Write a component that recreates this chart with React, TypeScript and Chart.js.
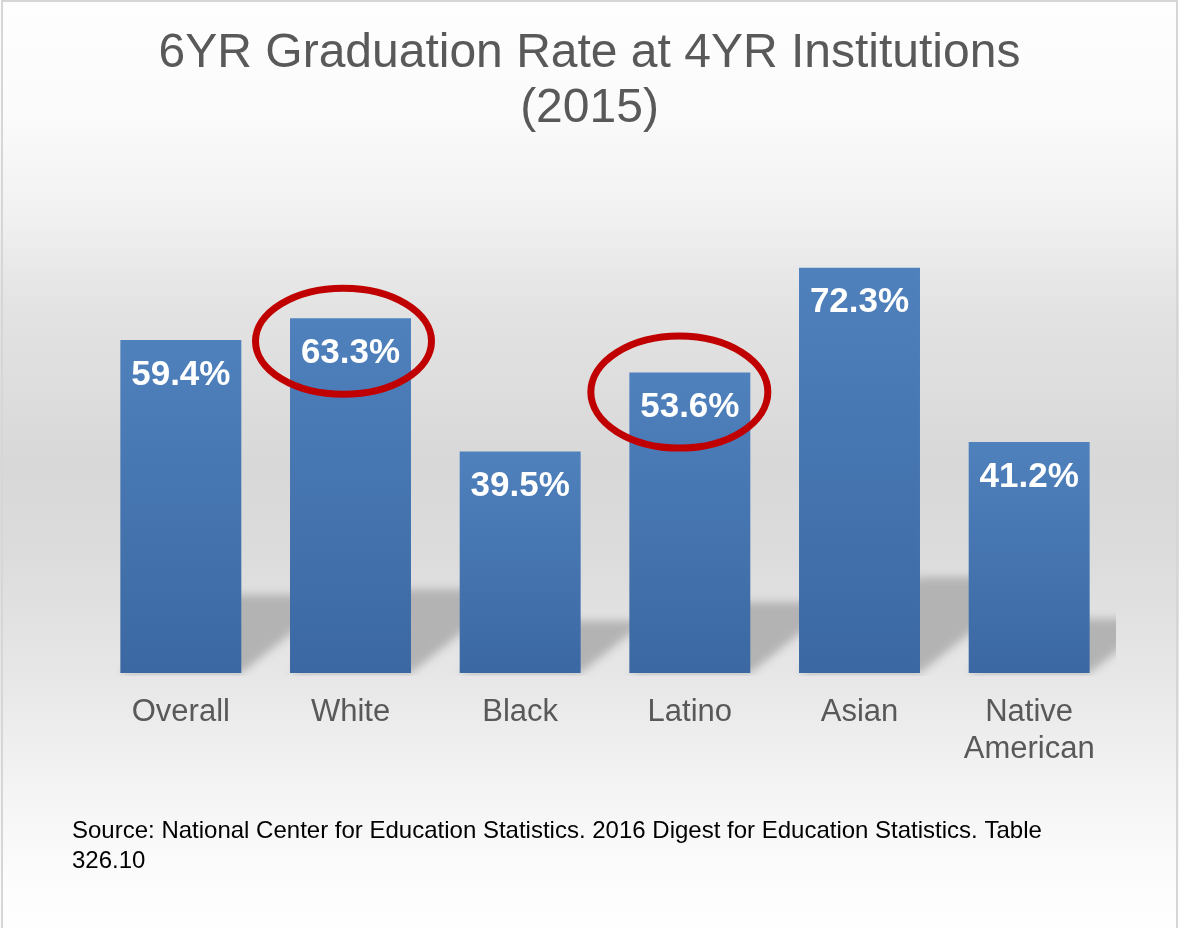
import { useEffect, useRef } from 'react';
import { Chart, registerables } from 'chart.js';

Chart.register(...registerables);

// ---- Data ----
const CATEGORIES: (string | string[])[] = ['Overall', 'White', 'Black', 'Latino', 'Asian', ['Native', 'American']];
const RATES: number[] = [59.4, 63.3, 39.5, 53.6, 72.3, 41.2];
const HIGHLIGHTED: number[] = [1, 3];
const TITLE_LINES: string[] = ['6YR Graduation Rate at 4YR Institutions', '(2015)'];
const SOURCE_LINES: string[] = [
  'Source: National Center for Education Statistics. 2016 Digest for Education Statistics. Table',
  '326.10',
];
const Y_MAX = 80;

// ---- Styles ----
const FONT = "'Liberation Sans', Arial, Helvetica, sans-serif";
const TEXT_GRAY = '#595959';
const BAR_TOP = '#4f81bd';
const BAR_BOTTOM = '#3b68a2';
const HIGHLIGHT_SHAPES = [
  { dx: -7, dy: 23, rx: 88, ry: 53 },
  { dx: -10.5, dy: 19.5, rx: 88.5, ry: 56 },
];

const backgroundPlugin = {
  id: 'slideBackground',
  beforeDraw(chart: any) {
    const { ctx, width, height } = chart;
    ctx.save();
    const g = ctx.createLinearGradient(0, 0, 0, height);
    g.addColorStop(0, '#fefefe');
    g.addColorStop(0.12, '#fbfbfb');
    g.addColorStop(0.23, '#f1f1f1');
    g.addColorStop(0.33, '#e3e3e3');
    g.addColorStop(0.5, '#d8d8d8');
    g.addColorStop(0.6, '#dcdcdc');
    g.addColorStop(0.74, '#e8e8e8');
    g.addColorStop(0.86, '#f5f5f5');
    g.addColorStop(0.96, '#fdfdfd');
    g.addColorStop(1, '#fefefe');
    ctx.fillStyle = g;
    ctx.fillRect(0, 0, width, height);
    ctx.strokeStyle = '#d6d6d6';
    ctx.lineWidth = 2;
    ctx.strokeRect(2, 1, width - 4, height + 10);
    ctx.restore();
  },
};

const shadowPlugin = {
  id: 'barShadows',
  beforeDatasetsDraw(chart: any) {
    const { ctx, chartArea } = chart;
    const meta = chart.getDatasetMeta(0);
    ctx.save();
    ctx.beginPath();
    ctx.rect(chartArea.left, chartArea.top, chartArea.right - chartArea.left + 2, chartArea.bottom - chartArea.top + 3);
    ctx.clip();
    ctx.filter = 'blur(4px)';
    ctx.fillStyle = '#b3b3b3';
    meta.data.forEach((bar: any) => {
      const { x, y, base, width } = bar.getProps(['x', 'y', 'base', 'width'], true);
      const h = base - y;
      const sy = h * 0.236;
      const sx = sy * 1.25;
      const l = x - width / 2;
      const r = x + width / 2;
      ctx.beginPath();
      ctx.moveTo(l, base);
      ctx.lineTo(r, base);
      ctx.lineTo(r + sx, base - sy);
      ctx.lineTo(l + sx, base - sy);
      ctx.closePath();
      ctx.fill();
    });
    ctx.restore();
  },
};

const annotationPlugin = {
  id: 'valueLabelsAndNotes',
  afterDatasetsDraw(chart: any) {
    const { ctx } = chart;
    const meta = chart.getDatasetMeta(0);
    ctx.save();
    ctx.fillStyle = '#ffffff';
    ctx.font = `bold 35px ${FONT}`;
    ctx.textAlign = 'center';
    ctx.textBaseline = 'middle';
    meta.data.forEach((bar: any, i: number) => {
      const { x, y } = bar.getProps(['x', 'y'], true);
      ctx.fillText(`${RATES[i].toFixed(1)}%`, x, y + 35);
    });
    ctx.strokeStyle = '#c00000';
    ctx.lineWidth = 7;
    HIGHLIGHTED.forEach((idx, k) => {
      const bar = meta.data[idx];
      const { x, y } = bar.getProps(['x', 'y'], true);
      const s = HIGHLIGHT_SHAPES[k];
      ctx.beginPath();
      ctx.ellipse(x + s.dx, y + s.dy, s.rx, s.ry, 0, 0, Math.PI * 2);
      ctx.stroke();
    });
    ctx.restore();
  },
  afterDraw(chart: any) {
    const { ctx } = chart;
    ctx.save();
    ctx.fillStyle = '#000000';
    ctx.font = `24px ${FONT}`;
    ctx.textAlign = 'left';
    ctx.textBaseline = 'alphabetic';
    SOURCE_LINES.forEach((line, i) => {
      ctx.fillText(line, 72, 838 + i * 29.5);
    });
    ctx.restore();
  },
};

export default function App() {
  const canvasRef = useRef<HTMLCanvasElement | null>(null);

  useEffect(() => {
    document.body.style.margin = '0';
    const canvas = canvasRef.current;
    if (!canvas) return;
    const chart = new Chart(canvas, {
      type: 'bar',
      data: {
        labels: CATEGORIES as any,
        datasets: [
          {
            data: RATES,
            backgroundColor: (c: any) => {
              const ch = c.chart;
              if (c.type !== 'data' || !ch.chartArea || !ch.scales.y) return BAR_TOP;
              const y0 = ch.scales.y.getPixelForValue(c.parsed.y);
              const y1 = ch.scales.y.getPixelForValue(0);
              if (!isFinite(y0) || !isFinite(y1) || y0 === y1) return BAR_TOP;
              const g = ch.ctx.createLinearGradient(0, y0, 0, y1);
              g.addColorStop(0, BAR_TOP);
              g.addColorStop(1, BAR_BOTTOM);
              return g;
            },
            borderWidth: 0,
            categoryPercentage: 1,
            barPercentage: 0.713,
          },
        ],
      },
      options: {
        responsive: false,
        animation: false,
        devicePixelRatio: 1,
        layout: { padding: { left: 65, right: 65, top: 0, bottom: 155 } },
        plugins: {
          legend: { display: false },
          tooltip: { enabled: false },
          title: {
            display: true,
            text: TITLE_LINES,
            color: TEXT_GRAY,
            font: { family: FONT, size: 48, weight: 'normal', lineHeight: 55 / 48 },
            padding: { top: 26, bottom: 88.6 },
          },
        },
        scales: {
          x: {
            grid: { display: false, drawTicks: false },
            border: { display: false },
            ticks: {
              color: TEXT_GRAY,
              font: { family: FONT, size: 31, lineHeight: 37 / 31 },
              padding: 21,
              autoSkip: false,
              maxRotation: 0,
            },
            afterFit: (scale: any) => {
              scale.height = 100;
            },
          },
          y: {
            display: true,
            min: 0,
            max: Y_MAX,
            grid: { display: false, drawTicks: false },
            border: { display: false },
            ticks: { display: false },
            afterFit: (scale: any) => {
              scale.width = 31;
            },
          },
        },
      },
      plugins: [backgroundPlugin, shadowPlugin, annotationPlugin],
    });
    return () => chart.destroy();
  }, []);

  return (
    <div style={{ width: 1179, height: 928 }}>
      <canvas ref={canvasRef} width={1179} height={928} style={{ display: 'block' }} />
    </div>
  );
}
